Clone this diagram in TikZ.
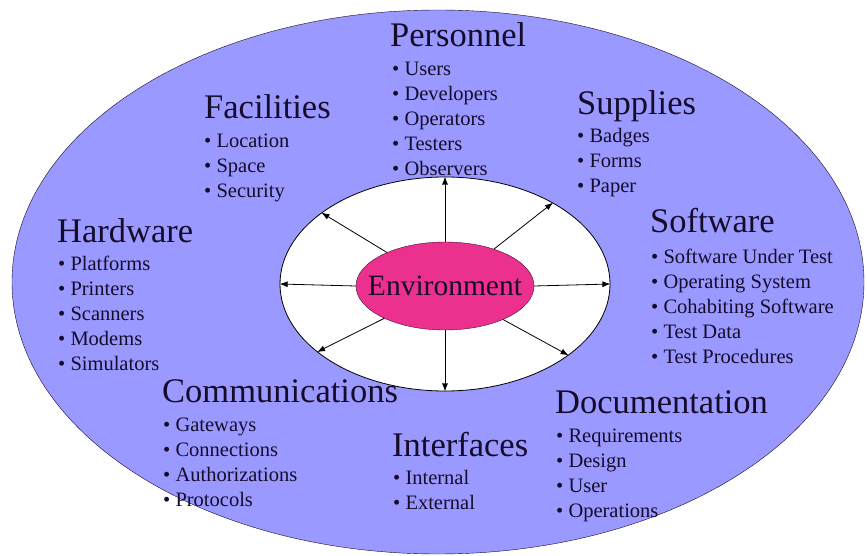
\documentclass[tikz,border=0pt]{standalone}
\usepackage{fontspec}
\setmainfont{Liberation Serif}
\usepackage{xcolor}
\usetikzlibrary{shapes.geometric}
\usetikzlibrary{arrows.meta}

\definecolor{ringblue}{RGB}{153,153,255}
\definecolor{envpink}{RGB}{236,48,142}
\definecolor{inkdark}{RGB}{22,12,42}

\tikzset{
  head/.style={anchor=base west,inner sep=0pt,text=inkdark,font=\fontsize{34.5}{36}\selectfont},
  item/.style={anchor=base west,inner sep=0pt,text=inkdark,font=\fontsize{20.5}{22}\selectfont},
  ring/.style={ellipse,draw,inner sep=0pt},
  spoke/.style={-{Latex[length=8pt,width=6pt]},line width=0.8pt}
}

\begin{document}
\begin{tikzpicture}[x=1pt,y=-1pt]
\useasboundingbox (0,0) rectangle (867,556);
\node[ring,fill=ringblue,draw=inkdark,minimum width=852pt,minimum height=544pt] (outer) at (438,282) {};
\node[ring,fill=white,line width=0.8pt,minimum width=330pt,minimum height=214pt] (inner) at (445,284) {};
\node[ring,fill=envpink,draw=inkdark!80!envpink,minimum width=178pt,minimum height=88pt] (env) at (445,286) {};
\node[inkdark,font=\fontsize{29.5}{31}\selectfont,inner sep=0pt] (envtxt) at (env.center) {Environment};

% spokes
\foreach \a in {0,37,90,150,180,208,270,330}
  \draw[spoke] (env.\a) -- (inner.\a);

% Personnel
\node[head] (pers) at (390,47) {Personnel};
\foreach \t [count=\i] in {Users,Developers,Operators,Testers,Observers}
  \node[item] (pers\i) at (392,{51+25*\i}) {• \t};

% Facilities
\node[head] (fac) at (204,119) {Facilities};
\foreach \t [count=\i] in {Location,Space,Security}
  \node[item] (fac\i) at (204,{123+25*\i}) {• \t};

% Supplies
\node[head] (sup) at (577,115) {Supplies};
\foreach \t [count=\i] in {Badges,Forms,Paper}
  \node[item] (sup\i) at (577,{118+25*\i}) {• \t};

% Hardware
\node[head] (hw) at (57,242) {Hardware};
\foreach \t [count=\i] in {Platforms,Printers,Scanners,Modems,Simulators}
  \node[item] (hw\i) at (58,{245+25*\i}) {• \t};

% Software
\node[head] (sw) at (650,233) {Software};
\foreach \t [count=\i] in {Software Under Test,Operating System,Cohabiting Software,Test Data,Test Procedures}
  \node[item] (sw\i) at (651,{238+25*\i}) {• \t};

% Communications
\node[head] (com) at (162,402) {Communications};
\foreach \t [count=\i] in {Gateways,Connections,Authorizations,Protocols}
  \node[item] (com\i) at (163,{406+25*\i}) {• \t};

% Documentation
\node[head] (doc) at (555,413) {Documentation};
\foreach \t [count=\i] in {Requirements,Design,User,Operations}
  \node[item] (doc\i) at (556,{417+25*\i}) {• \t};

% Interfaces
\node[head] (intf) at (392,456) {Interfaces};
\foreach \t [count=\i] in {Internal,External}
  \node[item] (intf\i) at (393,{459+25*\i}) {• \t};
\end{tikzpicture}
\end{document}
